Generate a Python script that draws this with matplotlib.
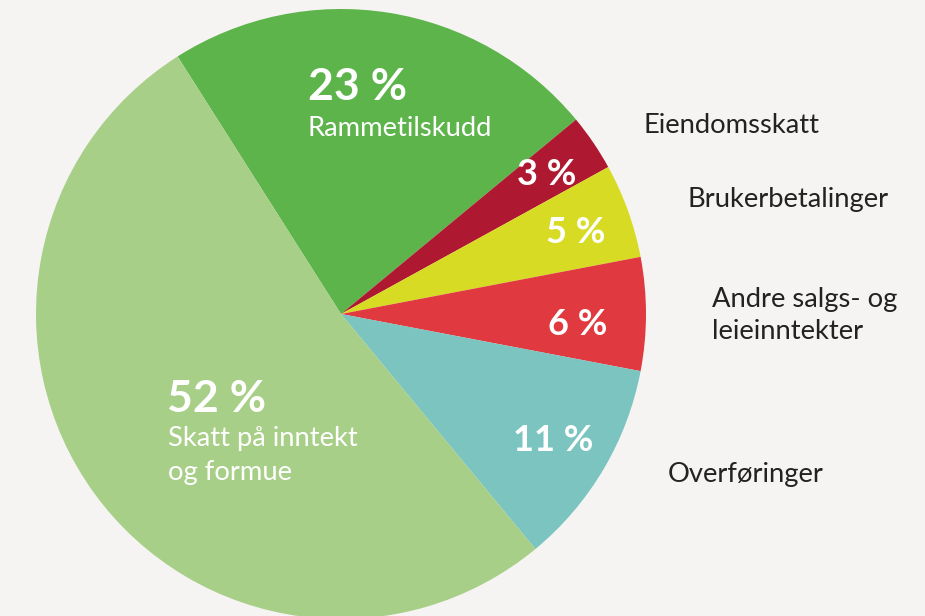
import matplotlib
matplotlib.use("Agg")
import matplotlib.pyplot as plt

# data
categories = ["Rammetilskudd", "Eiendomsskatt", "Brukerbetalinger",
              "Andre salgs- og\nleieinntekter", "Overføringer",
              "Skatt på inntekt\nog formue"]
shares = [23, 3, 5, 6, 11, 52]
colors = ["#5db44b", "#ae1830", "#d8db23", "#e03a40", "#7bc4c0", "#a8cf88"]

W, H = 925, 616
bg = "#f5f4f2"

plt.rcParams["font.family"] = ["Lato", "DejaVu Sans"]

fig = plt.figure(figsize=(W / 100, H / 100), dpi=100, facecolor=bg)
ax = fig.add_axes([0, 0, 1, 1])

ax.pie(shares, colors=colors, startangle=122.4, counterclock=False,
       center=(341, H - 314), radius=305, frame=True,
       wedgeprops=dict(linewidth=0))
ax.set_xlim(0, W)
ax.set_ylim(0, H)
ax.set_aspect("equal")
ax.axis("off")


def put(x, y, s, gap=34, **kw):
    # x, y in pixels from top-left corner, y = baseline of first line
    for i, line in enumerate(s.split("\n")):
        ax.text(x, H - (y + i * gap), line, va="baseline", **kw)


# percentage labels
pct_pos = [(308, 100, "left", 32), (547, 185, "center", 26),
           (576, 243, "center", 26), (578, 335, "center", 26),
           (553, 451, "center", 26), (167, 412, "left", 32)]
for v, (x, y, ha, fs) in zip(shares, pct_pos):
    put(x, y, f"{v} %", color="white", fontsize=fs, fontweight="bold", ha=ha)

# names inside the big slices
put(307, 136, categories[0], color="white", fontsize=19.7)
put(168, 446, categories[5], color="white", fontsize=19.7)

# names outside
txt = "#222222"
put(643, 133, categories[1], color=txt, fontsize=19.7)
put(687, 207, categories[2], color=txt, fontsize=19.7)
put(712, 307, categories[3], gap=32, color=txt, fontsize=19.7)
put(668, 482, categories[4], color=txt, fontsize=19.7)

fig.savefig("out.png", dpi=100, facecolor=bg)
